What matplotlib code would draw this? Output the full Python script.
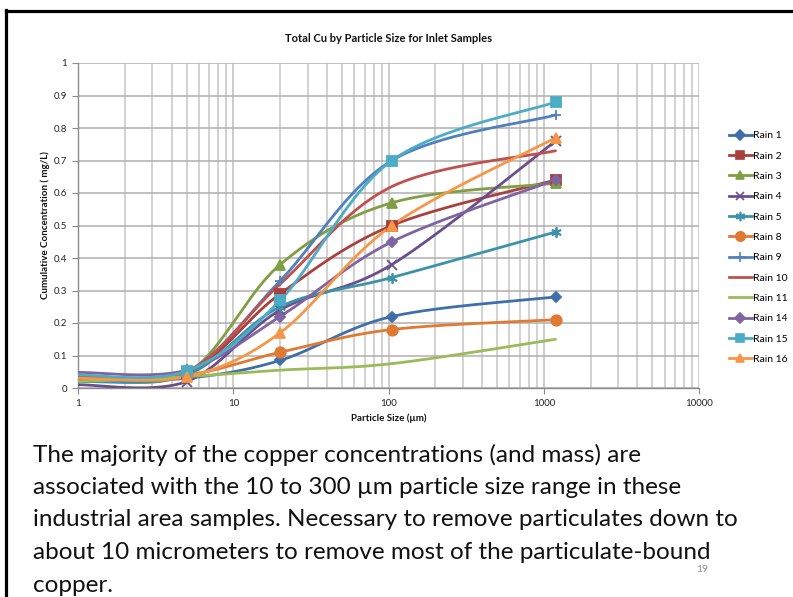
import numpy as np
import matplotlib
matplotlib.use("Agg")
import matplotlib.pyplot as plt
from matplotlib.lines import Line2D
from matplotlib.ticker import LogLocator, FixedLocator, NullFormatter

plt.rcParams['font.family'] = ['Lato', 'DejaVu Sans']

# ---------------- data ----------------
sizes = [1, 5, 20, 105, 1190]
series_names = ["Rain 1", "Rain 2", "Rain 3", "Rain 4", "Rain 5", "Rain 8",
                "Rain 9", "Rain 10", "Rain 11", "Rain 14", "Rain 15", "Rain 16"]
rain1 = [0.020, 0.030, 0.085, 0.220, 0.280]
rain2 = [0.025, 0.045, 0.290, 0.500, 0.640]
rain3 = [0.035, 0.045, 0.380, 0.570, 0.630]
rain4 = [0.010, 0.020, 0.240, 0.380, 0.760]
rain5 = [0.020, 0.040, 0.250, 0.340, 0.480]
rain8 = [0.030, 0.040, 0.110, 0.180, 0.210]
rain9 = [0.030, 0.050, 0.330, 0.700, 0.840]
rain10 = [0.035, 0.050, 0.320, 0.620, 0.730]
rain11 = [0.020, 0.035, 0.055, 0.075, 0.150]
rain14 = [0.048, 0.055, 0.220, 0.450, 0.640]
rain15 = [0.040, 0.052, 0.270, 0.700, 0.880]
rain16 = [0.030, 0.035, 0.170, 0.500, 0.770]
values = [rain1, rain2, rain3, rain4, rain5, rain8, rain9, rain10, rain11,
          rain14, rain15, rain16]

y_ticks = [0, 0.1, 0.2, 0.3, 0.4, 0.5, 0.6, 0.7, 0.8, 0.9, 1]
y_tick_labels = ["0", "0.1", "0.2", "0.3", "0.4", "0.5", "0.6", "0.7", "0.8", "0.9", "1"]
x_ticks = [1, 10, 100, 1000, 10000]
x_tick_labels = ["1", "10", "100", "1000", "10000"]

title = "Total Cu by Particle Size for Inlet Samples"
xlabel = "Particle Size (\u00b5m)"
ylabel = "Cumulative Concentration ( mg/L)"
body_lines = [
    "The majority of the copper concentrations (and mass) are",
    "associated with the 10 to 300 \u00b5m particle size range in these",
    "industrial area samples. Necessary to remove particulates down to",
    "about 10 micrometers to remove most of the particulate-bound",
    "copper.",
]
slide_number = "19"

# ---------------- styles ----------------
colors = ["#3F6FAA", "#A9403D", "#809F42", "#6A4F8C", "#3A93AB", "#E07A33",
          "#4F81BD", "#C0504D", "#9BBB59", "#8064A2", "#4BACC6", "#F79646"]
markers = ["D", "s", "^", "x", (6, 2, 0), "o", "+", None, None, "D", "s", "^"]
msizes = [5.5, 7, 7, 6.5, 7.5, 7.5, 7.5, 0, 0, 5.5, 7, 7]

W, H, DPI = 793, 597, 100
fig = plt.figure(figsize=(W / DPI, H / DPI), dpi=DPI)
fig.patch.set_facecolor("white")

L, R, T, B = 78.3, 699, 63, 388
ax = fig.add_axes([L / W, 1 - B / H, (R - L) / W, (B - T) / H])
ax.set_xscale("log")
ax.set_xlim(1, 10000)
ax.set_ylim(0, 1)

# grid
ax.xaxis.set_major_locator(FixedLocator(x_ticks))
ax.xaxis.set_minor_locator(LogLocator(base=10, subs=np.arange(2, 10), numticks=20))
ax.xaxis.set_minor_formatter(NullFormatter())
ax.set_xticks(x_ticks)
ax.set_xticklabels(x_tick_labels)
ax.set_yticks(y_ticks)
ax.set_yticklabels(y_tick_labels)
ax.grid(True, which="major", axis="x", color="#BEBEBE", lw=1.1)
ax.grid(True, which="minor", axis="x", color="#C6C6C6", lw=1.1)
ax.grid(True, which="major", axis="y", color="#AFAFAF", lw=1.1)
ax.set_axisbelow(True)
for s in ["top", "right"]:
    ax.spines[s].set_visible(False)
for s in ["left", "bottom"]:
    ax.spines[s].set_color("#8C8C8C")
    ax.spines[s].set_linewidth(1.0)
ax.tick_params(axis="both", which="major", length=4, width=0.8, color="#8C8C8C",
               labelsize=7, labelcolor="#222222", pad=4)
ax.tick_params(axis="x", which="minor", length=0)


def smooth_curve(xs, ys, n=40):
    """Excel-like smoothed line (Catmull-Rom Bezier) computed in display space."""
    pts = ax.transData.transform(np.column_stack([xs, ys]))
    out = []
    m = len(pts)
    for i in range(m - 1):
        p0 = pts[i - 1] if i > 0 else pts[i]
        p1 = pts[i]
        p2 = pts[i + 1]
        p3 = pts[i + 2] if i + 2 < m else pts[i + 1]
        c1 = p1 + (p2 - p0) / 6.0
        c2 = p2 - (p3 - p1) / 6.0
        t = np.linspace(0, 1, n)[:, None]
        seg = ((1 - t) ** 3) * p1 + 3 * ((1 - t) ** 2) * t * c1 + 3 * (1 - t) * t ** 2 * c2 + t ** 3 * p2
        out.append(seg if i == 0 else seg[1:])
    out = np.vstack(out)
    d = ax.transData.inverted().transform(out)
    return d[:, 0], d[:, 1]


handles = []
for name, vals, c, mk, ms in zip(series_names, values, colors, markers, msizes):
    sx, sy = smooth_curve(sizes, vals)
    ax.plot(sx, sy, color=c, lw=2.0, solid_capstyle="round", clip_on=True, zorder=3)
    if mk is not None:
        ax.plot(sizes[1:], vals[1:], linestyle="none", marker=mk, ms=ms, color=c,
                mec=c, mew=1.3, zorder=4, clip_on=False)
    handles.append(Line2D([], [], color=c, lw=2.0, marker=mk if mk else None,
                          ms=ms * 0.9, mec=c, mew=1.2))

ax.set_title(title, fontsize=8, fontweight="bold", pad=15, color="#111111")
ax.set_xlabel(xlabel, fontsize=7, fontweight="bold", labelpad=4, color="#111111")
ax.set_ylabel(ylabel, fontsize=7, fontweight="bold", labelpad=3, color="#111111")

fig.legend(handles, series_names, loc="upper left",
           bbox_to_anchor=(729 / W, 1 - 131 / H), frameon=False, fontsize=7.5,
           handlelength=2.2, handletextpad=0.12, labelspacing=1.06,
           borderpad=0, borderaxespad=0)

# slide frame
fig.add_artist(Line2D([6 / W, 6 / W], [0, 1 - 10 / H], color="black", lw=2.3,
                      transform=fig.transFigure, solid_capstyle="projecting"))
fig.add_artist(Line2D([6 / W, 1], [1 - 10.5 / H, 1 - 10.5 / H], color="black", lw=2.3,
                      transform=fig.transFigure, solid_capstyle="projecting"))

# body text
y0 = 455
for i, line in enumerate(body_lines):
    fig.text(33 / W, 1 - (y0 + 32.5 * i) / H, line, fontsize=17.5, va="center",
             ha="left", color="#111111")
fig.text(702 / W, 1 - 570 / H, slide_number, fontsize=7.5, color="#8C8C8C",
         ha="center", va="center")

fig.savefig("out.png", dpi=DPI, facecolor="white")
